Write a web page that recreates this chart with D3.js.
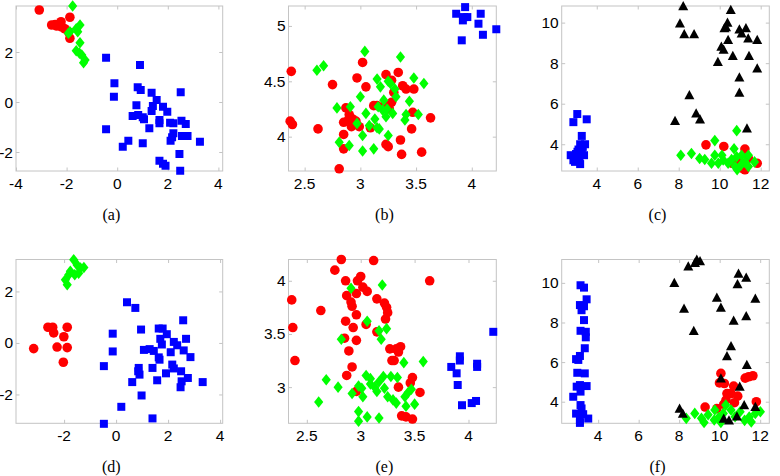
<!DOCTYPE html>
<html><head><meta charset="utf-8">
<script src="https://cdn.jsdelivr.net/npm/d3@7"></script>
<style>
body{margin:0;background:#fff}svg{display:block}
.tl{font-family:"Liberation Sans",Arial,Helvetica,sans-serif;font-size:15.5px;fill:#000}
.cap{font-family:"Liberation Serif","Times New Roman",Times,serif;font-size:16px;fill:#000}
</style>
</head><body>
<svg id="c" width="780" height="476"></svg>
<script>
// ---------- DATA ----------
const captions = ["(a)","(b)","(c)","(d)","(e)","(f)"];
const ticksA_x=[-4,-2,0,2,4], ticksA_y=[-2,0,2];
const ticksB_x=[2.5,3,3.5,4], ticksB_y=[4,4.5,5];
const ticksC_x=[4,6,8,10,12], ticksC_y=[4,6,8,10];
const ticksD_x=[-2,0,2,4], ticksD_y=[-2,0,2];
const ticksE_x=[2.5,3,3.5,4], ticksE_y=[3,3.5,4];
const ticksF_x=[4,6,8,10,12], ticksF_y=[4,6,8,10];

const aBlue=[[-0.44,1.77],[0.9,1.48],[-0.11,0.75],[-0.13,0.21],[-0.44,-1.09],[0.81,0.59],[0.93,0.48],[1.36,0.37],[2.51,0.39],[1.56,0.08],[1.41,-0.16],[1.81,-0.19],[1.36,-0.36],[1.98,-0.39],[0.76,-0.13],[0.61,-0.56],[0.83,-0.52],[1.06,-0.69],[1.01,-0.61],[1.67,-0.85],[1.67,-0.72],[2.09,-0.83],[2.22,-0.85],[2.54,-0.75],[2.71,-0.88],[1.27,-1.05],[2.22,-1.25],[2.17,-1.41],[2.11,-1.55],[2.56,-1.36],[2.78,-1.36],[3.27,-1.59],[0.44,-1.55],[0.22,-1.79],[1.01,-1.65],[1.67,-2.35],[1.81,-2.47],[1.91,-2.55],[2.46,-2.08],[2.49,-2.75]];
const aRed=[[-3.08,3.68],[-2.59,3.08],[-2.39,3.04],[-2.22,3.21],[-2.19,3.0],[-1.87,3.39],[-1.93,2.81],[-1.87,2.55],[-2.07,2.93],[-2.45,3.1]];
const aGreen=[[-1.76,3.84],[-1.47,3.08],[-1.62,2.93],[-1.87,2.81],[-1.93,2.75],[-1.56,2.81],[-1.47,2.37],[-1.62,2.05],[-1.4,1.88],[-1.27,1.68],[-1.33,1.57],[-1.49,1.95]];

const bBlue=[[3.86,5.11],[3.94,5.17],[3.93,5.08],[3.96,5.08],[3.92,5.05],[4.08,5.11],[4.06,5.02],[4.1,4.92],[4.22,4.97],[3.91,4.87]];
const bRed=[[2.38,4.59],[2.37,4.14],[2.39,4.11],[2.62,4.07],[2.75,4.47],[2.81,3.71],[2.85,4.02],[2.85,3.89],[2.87,4.26],[2.85,4.13],[2.89,4.15],[2.92,4.09],[2.97,4.53],[3.02,4.67],[3.05,4.45],[2.99,4.09],[2.96,4.14],[3.09,4.08],[3.12,4.28],[3.15,4.28],[3.23,4.56],[3.28,4.51],[3.34,4.58],[3.36,3.97],[3.37,3.84],[3.23,3.93],[3.25,3.91],[3.41,4.43],[3.48,4.43],[3.38,4.46],[3.46,4.07],[3.55,3.86],[3.63,4.17],[3.47,4.22],[3.22,4.28],[3.28,4.31],[3.26,4.25],[3.3,4.4],[2.9,4.2],[2.93,4.16]];
const bGreen=[[2.61,4.6],[2.67,4.64],[2.79,4.26],[2.81,3.95],[2.9,3.92],[2.91,4.27],[2.97,4.12],[3.0,4.36],[3.04,4.77],[3.02,4.01],[3.02,3.87],[3.05,4.21],[3.08,4.1],[3.13,4.16],[3.12,3.89],[3.15,4.08],[3.17,4.07],[3.15,4.52],[3.18,4.45],[3.16,4.27],[3.21,4.33],[3.23,4.18],[3.2,4.24],[3.25,4.5],[3.27,4.48],[3.24,4.25],[3.29,4.21],[3.31,4.43],[3.32,4.36],[3.36,4.72],[3.25,4.01],[3.41,4.2],[3.44,4.32],[3.4,4.15],[3.48,4.53],[3.52,4.2],[3.57,4.48]];

const cBlue=[[3.05,5.49],[2.86,5.09],[3.51,5.23],[3.27,4.41],[3.43,4.0],[3.19,4.0],[3.11,3.74],[3.27,3.63],[2.99,3.52],[2.73,3.46],[3.38,3.46],[3.16,3.25],[2.94,3.13],[3.19,3.02],[3.02,3.38],[3.32,3.87],[3.06,3.63],[2.86,3.21]];
const cRed=[[9.33,3.97],[10.2,3.89],[11.23,3.76],[10.9,3.22],[11.83,3.06],[11.07,2.82],[10.6,3.06],[11.4,3.3],[11.23,2.74]];
const cGreen=[[10.83,4.67],[9.76,4.18],[10.7,3.78],[8.1,3.46],[8.62,3.54],[9.02,3.3],[9.27,3.25],[9.76,3.46],[9.6,3.06],[9.93,3.06],[10.17,3.22],[10.58,3.25],[10.83,3.38],[11.07,3.46],[11.4,3.46],[11.7,3.13],[10.75,2.9],[11.04,2.98],[11.23,3.13],[11.4,2.9],[10.41,3.06],[10.11,3.46],[10.85,2.75]];
const cBlack=[[8.22,10.82],[8.06,9.97],[8.27,9.44],[8.75,9.44],[10.54,10.63],[10.38,10.0],[10.31,9.78],[10.23,9.73],[10.96,9.67],[11.28,9.73],[11.07,9.48],[10.41,9.15],[11.39,9.23],[11.83,9.15],[10.08,8.82],[10.19,8.68],[10.64,8.36],[11.43,8.36],[9.91,8.07],[11.83,7.75],[10.96,7.31],[10.96,6.55],[8.52,6.43],[8.85,5.53],[9.04,5.23],[7.82,5.16],[11.33,4.79]];

const dBlue=[[0.42,1.58],[0.74,1.36],[2.58,0.88],[0.96,0.52],[1.64,0.56],[1.79,0.56],[1.95,0.34],[-0.13,0.36],[1.7,0.16],[2.69,0.16],[2.22,0.04],[2.35,-0.09],[1.76,-0.06],[-0.13,-0.33],[1.07,-0.27],[1.29,-0.24],[1.45,-0.31],[2.6,-0.29],[2.1,-0.36],[1.64,-0.56],[1.67,-0.65],[2.86,-0.55],[-0.47,-0.9],[0.87,-0.97],[0.85,-1.1],[0.9,-1.23],[1.4,-0.97],[2.16,-0.84],[2.22,-0.99],[1.92,-1.18],[2.5,-1.1],[2.76,-1.36],[2.52,-1.49],[2.48,-1.72],[1.58,-1.45],[0.62,-1.52],[3.33,-1.52],[0.98,-2.04],[0.2,-2.48],[1.4,-2.93],[-0.47,-3.14]];
const dRed=[[-2.62,0.61],[-2.44,0.61],[-2.4,0.39],[-1.88,0.61],[-2.01,0.24],[-3.17,-0.22],[-2.27,-0.16],[-1.88,-0.18],[-2.03,-0.75]];
const dGreen=[[-1.63,3.23],[-1.5,3.03],[-1.24,2.93],[-1.76,2.78],[-1.44,2.71],[-1.95,2.45],[-1.88,2.26],[-1.59,2.65],[-1.82,2.65],[-1.37,2.91]];

const eBlue=[[4.23,3.52],[3.92,3.29],[3.92,3.25],[3.84,3.19],[3.89,3.13],[4.08,3.22],[4.08,3.19],[3.9,3.02],[3.94,2.83],[4.03,2.85],[4.07,2.87]];
const eRed=[[2.82,4.2],[3.12,4.19],[2.76,4.1],[2.86,4.0],[2.97,4.0],[3.0,4.04],[3.02,3.94],[3.06,3.9],[2.96,3.88],[2.87,3.86],[2.91,3.8],[2.92,3.76],[3.64,4.0],[2.36,3.82],[2.63,3.72],[2.96,3.68],[3.15,3.83],[3.22,3.79],[3.24,3.75],[3.25,3.7],[3.23,3.64],[2.86,3.62],[2.93,3.56],[3.05,3.59],[3.15,3.52],[2.37,3.56],[2.85,3.46],[2.96,3.44],[2.89,3.34],[3.27,3.36],[3.33,3.36],[3.37,3.38],[3.35,3.33],[3.29,3.25],[3.31,3.25],[2.39,3.25],[2.92,3.19],[2.87,3.11],[3.48,3.09],[3.46,3.04],[3.35,3.0],[3.55,2.95],[2.96,2.96],[3.38,2.73],[3.42,2.72],[3.48,2.7]];
const eGreen=[[2.91,3.93],[3.2,3.96],[3.06,3.62],[3.24,3.55],[2.82,3.45],[3.17,3.53],[3.19,3.45],[3.4,3.23],[3.58,3.24],[2.68,3.07],[2.79,3.0],[2.61,2.86],[2.92,2.94],[2.98,3.01],[3.02,2.91],[3.05,3.11],[3.09,3.08],[3.13,3.0],[3.15,2.96],[3.17,3.05],[3.21,3.1],[3.22,2.99],[3.25,2.91],[3.28,3.1],[3.3,2.88],[3.33,2.85],[3.34,3.09],[3.41,2.91],[3.44,2.95],[3.47,2.98],[3.5,2.84],[3.42,2.82],[2.98,2.77],[2.98,2.68],[3.06,2.72],[3.17,2.71],[3.09,3.03],[3.01,2.99]];

const fBlue=[[3.13,9.88],[3.3,9.76],[3.1,8.88],[3.3,8.82],[3.43,9.17],[3.18,8.62],[3.3,8.12],[3.13,7.58],[3.39,7.53],[3.39,7.25],[3.34,6.7],[3.1,6.31],[2.91,6.15],[3.02,6.11],[2.97,5.46],[3.34,5.43],[2.94,4.76],[3.1,4.84],[3.43,4.79],[3.13,4.51],[2.77,4.25],[3.13,3.83],[3.18,3.66],[2.91,3.4],[3.26,3.37],[3.51,3.15],[3.1,3.06],[3.1,2.93]];
const fRed=[[10.06,5.43],[9.99,4.95],[10.23,4.92],[10.69,4.79],[11.26,5.19],[11.64,5.31],[11.43,5.26],[10.36,4.41],[10.56,4.41],[10.89,4.28],[10.31,4.08],[10.73,3.95],[11.81,4.0],[9.28,3.73],[9.86,3.65],[10.2,3.87]];
const fGreen=[[8.35,3.16],[8.77,3.41],[9.23,2.95],[9.43,3.34],[9.76,3.58],[9.96,3.21],[10.18,3.41],[10.3,3.83],[10.56,3.58],[10.76,3.24],[11.01,3.49],[11.23,3.06],[11.46,3.23],[11.56,2.98],[11.76,3.41],[12.01,3.49],[10.06,2.95],[9.73,3.08],[9.1,3.16]];
const fBlack=[[8.87,11.18],[9.03,11.11],[8.78,11.01],[8.45,10.84],[10.93,10.47],[11.31,10.27],[7.76,10.0],[10.88,9.94],[9.86,9.26],[11.76,9.21],[10.06,8.76],[8.24,8.71],[10.69,8.1],[11.31,8.33],[8.72,7.58],[10.56,6.81],[10.36,6.31],[11.34,5.86],[10.06,5.19],[10.99,4.77],[8.02,3.66],[8.18,3.4],[11.21,3.83],[11.76,3.74],[10.2,3.15],[10.46,3.06],[10.85,3.26]];

// ---------- LAYOUT ----------
const panels=[
 {box:[16,6,222.7,171], xd:[-4,4.17], yd:[-2.76,3.84], xt:ticksA_x, yt:ticksA_y, s:{blue:aBlue,red:aRed,green:aGreen}},
 {box:[288.5,6,496.3,171], xd:[2.355,4.22], yd:[3.69,5.18], xt:ticksB_x, yt:ticksB_y, s:{blue:bBlue,red:bRed,green:bGreen}},
 {box:[561.7,6,769.3,171], xd:[2.29,12.42], yd:[2.68,10.82], xt:ticksC_x, yt:ticksC_y, s:{blue:cBlue,red:cRed,green:cGreen,black:cBlack}},
 {box:[16,259.5,222.7,423.3], xd:[-3.85,4.1], yd:[-3.12,3.24], xt:ticksD_x, yt:ticksD_y, s:{blue:dBlue,red:dRed,green:dGreen}},
 {box:[288.5,259.5,496.3,423.3], xd:[2.33,4.258], yd:[2.66,4.2], xt:ticksE_x, yt:ticksE_y, s:{blue:eBlue,red:eRed,green:eGreen}},
 {box:[561.7,259.5,769.3,423.3], xd:[2.2,12.45], yd:[2.91,11.18], xt:ticksF_x, yt:ticksF_y, s:{blue:fBlue,red:fRed,green:fGreen,black:fBlack}}
];
const colors={blue:"#0000ff",red:"#ff0000",green:"#00ff00",black:"#000000"};
const order=["blue","red","green","black"];
const frameCol="#c4c4c4";

function markerPath(kind){
  if(kind==="blue"){const h=4;return `M${-h},${-h}H${h}V${h}H${-h}Z`;}
  if(kind==="red"){return d3.symbol(d3.symbolCircle, Math.PI*4.8*4.8)();}
  if(kind==="green"){const w=4.6,h=5.8;return `M0,${-h}L${w},0L0,${h}L${-w},0Z`;}
  const w=5,h=5;return `M0,${-h}L${w},${h*0.85}L${-w},${h*0.85}Z`;
}

const svg=d3.select("#c");
panels.forEach((p,i)=>{
  const [x0,y0,x1,y1]=p.box;
  const x=d3.scaleLinear().domain(p.xd).range([x0,x1]);
  const y=d3.scaleLinear().domain(p.yd).range([y1,y0]);
  const g=svg.append("g");
  g.append("rect").attr("x",x0).attr("y",y0).attr("width",x1-x0).attr("height",y1-y0)
    .attr("fill","#fff").attr("stroke",frameCol).attr("stroke-width",1);
  const fmt=v=>String(v);
  g.append("g").attr("transform",`translate(0,${y1})`).call(d3.axisBottom(x).tickValues(p.xt).tickSizeInner(-3.5).tickSizeOuter(0).tickFormat(""));
  g.append("g").attr("transform",`translate(0,${y0})`).call(d3.axisTop(x).tickValues(p.xt).tickSizeInner(-3.5).tickSizeOuter(0).tickFormat(""));
  g.append("g").attr("transform",`translate(${x0},0)`).call(d3.axisLeft(y).tickValues(p.yt).tickSizeInner(-3.5).tickSizeOuter(0).tickFormat(""));
  g.append("g").attr("transform",`translate(${x1},0)`).call(d3.axisRight(y).tickValues(p.yt).tickSizeInner(-3.5).tickSizeOuter(0).tickFormat(""));
  g.selectAll(".domain").remove();
  g.selectAll(".tick line").attr("stroke",frameCol);
  g.selectAll(".xl").data(p.xt).join("text").attr("class","xl tl")
    .attr("x",d=>x(d)).attr("y",y1+17.5).attr("text-anchor","middle").text(fmt);
  g.selectAll(".yl").data(p.yt).join("text").attr("class","yl tl")
    .attr("x",x0-3).attr("y",d=>y(d)+5.5).attr("text-anchor","end").text(fmt);
  order.forEach(k=>{
    if(!p.s[k])return;
    const path=markerPath(k);
    g.append("g").selectAll("path").data(p.s[k]).join("path")
      .attr("d",path).attr("transform",d=>`translate(${x(d[0])},${y(d[1])})`)
      .attr("fill",colors[k]);
  });
  svg.append("text").attr("class","cap").attr("x",(x0+x1)/2-8).attr("y",y1+48.5).attr("text-anchor","middle")
    .text(captions[i]);
});
</script>
</body></html>
